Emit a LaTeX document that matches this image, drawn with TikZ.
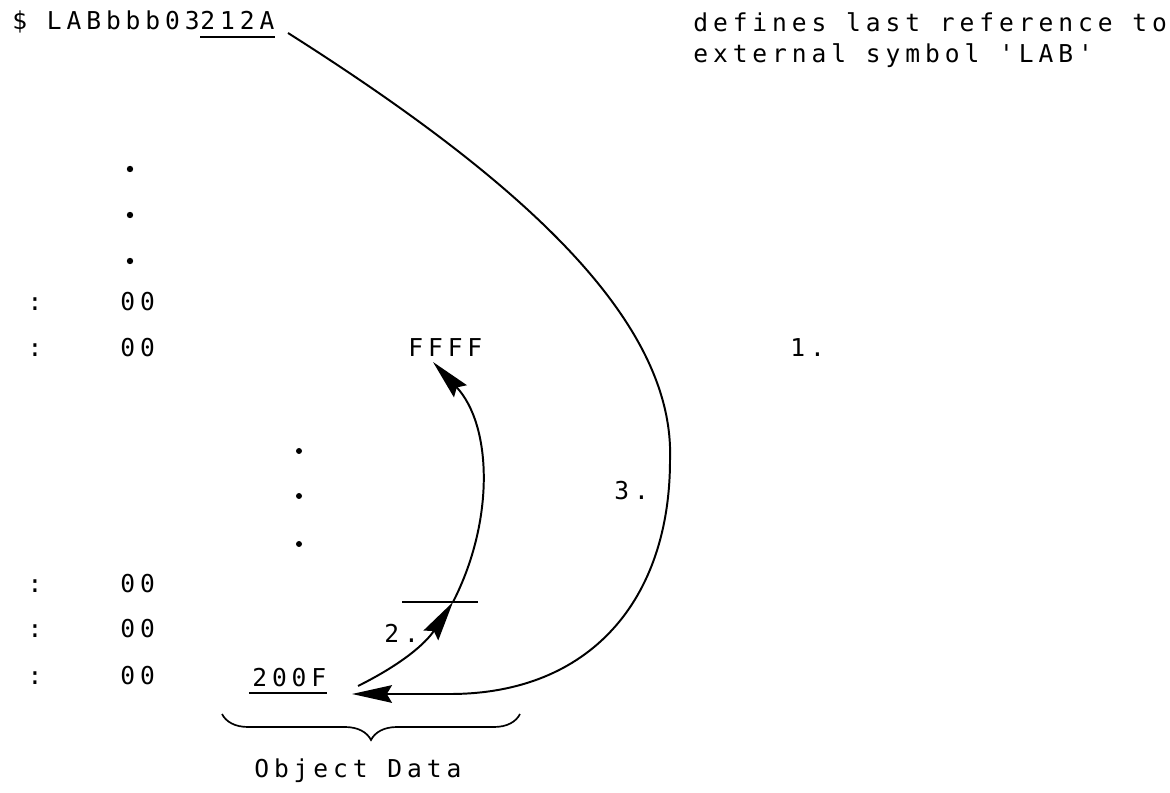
\documentclass[tikz,border=0pt]{standalone}
\usepackage{fontspec}
\setmonofont{DejaVu Sans Mono}[LetterSpace=20]
\usetikzlibrary{arrows.meta,decorations.pathreplacing}

\begin{document}
\begin{tikzpicture}[every node/.style={font=\ttfamily\fontsize{17.5}{22}\selectfont, inner sep=0pt},
    pointer/.style={-{Stealth[length=10mm, width=4.4mm, inset=1.3mm]}, line width=1.4pt}]

    \useasboundingbox (0,0) rectangle (29.25,19.8);

    % record line
    \node[anchor=base west] (lab) at (0.3,19.05) {\$ LABbbb03};
    \node[anchor=base west] (labaddr) at (lab.base east) {212A};
    \draw[line width=1.2pt] ([yshift=-0.18cm]labaddr.base west) -- ([yshift=-0.18cm]labaddr.base east);

    % comment
    \node[anchor=base west] (def1) at (17.325,19.0) {defines last reference to};
    \node[anchor=base west] (def2) at (17.325,18.225) {external symbol 'LAB'};

    % dots
    \foreach \y in {15.575,14.425,13.275}
        \fill (3.25,\y) circle (0.08cm);
    \foreach \y in {8.525,7.4,6.2}
        \fill (7.475,\y) circle (0.075cm);

    % memory rows
    \foreach \y [count=\i] in {12.04,10.89,4.99,3.86,2.69} {
        \node[anchor=base] (colon\i) at (0.875,\y) {:};
        \node[anchor=base west] (byte\i) at (3.0,\y) {00};
    }

    % FFFF
    \node[anchor=base west] (ffff) at (10.2,10.89) {FFFF};
    \node[anchor=base west] (step1) at (19.75,10.89) {1.};

    % 200F
    \node[anchor=base west] (f200) at (6.3,2.65) {200F};
    \draw[line width=1.2pt] ([xshift=-0.08cm, yshift=-0.18cm]f200.base west) -- ([yshift=-0.18cm]f200.base east);

    % labels
    \node[anchor=base west] (step2) at (9.6,3.75) {2.};
    \node[anchor=base west] (step3) at (15.35,7.3) {3.};

    % tick
    \coordinate (tick) at (11.325,4.75);
    \draw[line width=1.2pt] (10.05,4.75) -- (11.95,4.75);

    % arrow 2
    \coordinate (start2) at (8.95,2.65);
    \coordinate (ftip) at (10.825,10.75);
    \draw[pointer] (start2) to[bend right=15] (tick);
    \draw[pointer] (tick) .. controls (12.375,6.8) and (12.3,9.175) .. (ftip);

    % arrow 3
    \coordinate (start3) at (7.2,18.975);
    \coordinate (end3) at (8.8,2.45);
    \draw[pointer] (start3) .. controls (13.0,15.3) and (16.875,11.8) .. (16.75,8.3)
        .. controls (16.75,4.8) and (14.75,2.45) .. (11.25,2.45) -- (end3);

    % brace
    \draw[line width=1.2pt, decorate, decoration={brace, amplitude=0.65cm}] (13.0,1.95) -- (5.55,1.95);
    \node[anchor=base west] (objdata) at (6.35,0.375) {Object Data};

\end{tikzpicture}
\end{document}
